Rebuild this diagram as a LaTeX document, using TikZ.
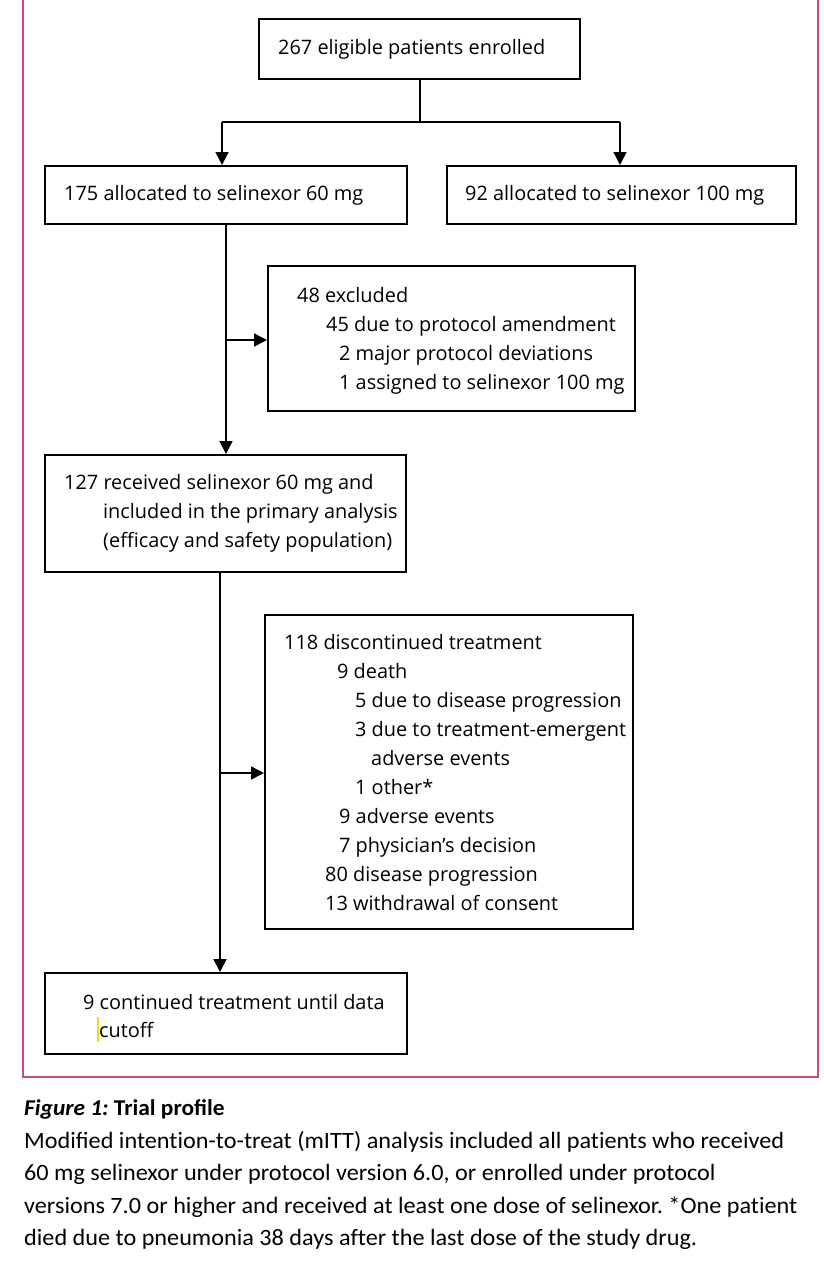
\documentclass[tikz,border=0pt]{standalone}
\usepackage{fontspec}
\setmainfont{Open Sans}
\newfontfamily\capfont{Carlito}[FakeStretch=1.035]
\newcommand\tiL{t\kern0pt i}
\usetikzlibrary{arrows.meta}
\definecolor{framecol}{RGB}{200,80,120}
\definecolor{cursorcol}{RGB}{240,220,0}
\frenchspacing
\begin{document}
\begin{tikzpicture}[x=1pt,y=-1pt,
  box/.style={draw=black, line width=1.6pt, inner sep=0pt, anchor=north west},
  txt/.style={anchor=base west, inner sep=0pt, font=\fontsize{19.9}{24}\selectfont},
  captxt/.style={anchor=base west, inner sep=0pt, font=\capfont\fontsize{23.4}{27}\selectfont},
  conn/.style={line width=1.5pt, -{Triangle[length=13pt,width=13pt]}},
  plainline/.style={line width=1.5pt},
]
\useasboundingbox (0,0) rectangle (824,1264);
% frame
\draw[framecol, line width=1.5pt] (23,0) -- (23,1077) -- (818,1077) -- (818,0);
% boxes
\node[box, minimum width=321pt, minimum height=60pt] (top) at (258,18) {};
\node[box, minimum width=362pt, minimum height=58pt] (a60) at (44,165) {};
\node[box, minimum width=349pt, minimum height=58pt] (a100) at (446,165) {};
\node[box, minimum width=367pt, minimum height=145pt] (excl) at (267,265) {};
\node[box, minimum width=361pt, minimum height=117pt] (recv) at (44,454) {};
\node[box, minimum width=368pt, minimum height=314pt] (disc) at (264,614) {};
\node[box, minimum width=362pt, minimum height=81pt] (cont) at (44,972) {};
% texts
\node[txt] (t1) at (278,54) {267 eligible patients enrolled};
\node[txt] (t2) at (64,200) {175 allocated to selinexor 60 mg};
\node[txt] (t3) at (465,200) {92 allocated to selinexor 100 mg};
\node[txt] (e1) at (297,302) {48 excluded};
\node[txt] (e2) at (326,331) {45 due to protocol amendment};
\node[txt] (e3) at (339,360) {2 major protocol deviations};
\node[txt] (e4) at (339,389) {1 assigned to selinexor 100 mg};
\node[txt] (r1) at (64,489) {127 received selinexor 60 mg and};
\node[txt] (r2) at (103,518) {included in the primary analysis};
\node[txt] (r3) at (103,547) {(efficacy and safety population)};
\node[txt] (d1) at (284,649) {118 discontinued treatment};
\node[txt] (d2) at (337,678) {9 death};
\node[txt] (d3) at (355,707) {5 due to disease progression};
\node[txt] (d4) at (355,736) {3 due to treatment-emergent};
\node[txt] (d5) at (371,765) {adverse events};
\node[txt] (d6) at (355,794) {1 other*};
\node[txt] (d7) at (339,823) {9 adverse events};
\node[txt] (d8) at (339,852) {7 physician’s decision};
\node[txt] (d9) at (325,881) {80 disease progression};
\node[txt] (d10) at (325,910) {13 withdrawal of consent};
\node[txt] (c1t) at (83,1009) {9 continued treatment until data};
\node[txt] (c2t) at (99,1037) {cutoff};
\draw[cursorcol, line width=1.2pt] (98,1017) -- (98,1042);
% connectors
\coordinate (j1) at (420,122);
\coordinate (jl) at (222,122);
\coordinate (jr) at (620,122);
\draw[plainline] (top.south -| j1) -- (j1);
\draw[plainline] (jl) -- (jr);
\draw[conn] (jl) -- (jl |- a60.north);
\draw[conn] (jr) -- (jr |- a100.north);
\coordinate (k1) at (226,340);
\draw[conn] (a60.south -| k1) -- (recv.north -| k1);
\draw[conn] (k1) -- (k1 -| excl.west);
\coordinate (k2) at (220,773);
\draw[conn] (recv.south -| k2) -- (cont.north -| k2);
\draw[conn] (k2) -- (k2 -| disc.west);
% caption
\node[captxt, font=\capfont\fontsize{22.6}{27}\selectfont\bfseries] (h) at (24,1115) {\textit{Figure 1:} Trial profile};
\node[captxt] (p1) at (24,1148) {Modified inten\tiL on-to-treat (mITT) analysis included all pa\tiL ents who received};
\node[captxt] (p2) at (24,1180) {60 mg selinexor under protocol version 6.0, or enrolled under protocol};
\node[captxt] (p3) at (24,1213) {versions 7.0 or higher and received at least one dose of selinexor. *One pa\tiL ent};
\node[captxt] (p4) at (24,1245) {died due to pneumonia 38 days af\kern0pt ter the last dose of the study drug.};
\end{tikzpicture}
\end{document}
